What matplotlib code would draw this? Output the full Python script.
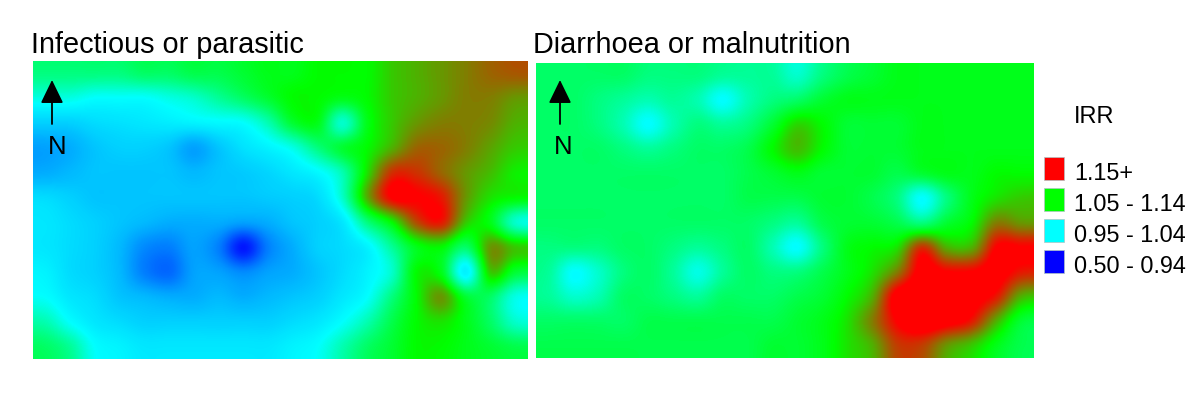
import numpy as np
import matplotlib
matplotlib.use("Agg")
import matplotlib.pyplot as plt
from matplotlib.colors import LinearSegmentedColormap, Normalize
from matplotlib.patches import Rectangle

plt.rcParams["font.family"] = ["Liberation Sans", "DejaVu Sans"]

titles = ["Infectious or parasitic", "Diarrhoea or malnutrition"]

irr_infectious = [
    [1.05, 1.05, 1.05, 1.05, 1.06, 1.06, 1.07, 1.07, 1.08, 1.09, 1.09, 1.10, 1.10, 1.10, 1.12, 1.13, 1.14, 1.15, 1.16, 1.165],
    [1.01, 1.01, 1.00, 1.00, 1.00, 1.01, 1.02, 1.04, 1.06, 1.08, 1.10, 1.10, 1.09, 1.10, 1.12, 1.13, 1.14, 1.15, 1.15, 1.14],
    [0.96, 0.96, 0.97, 0.975, 0.98, 0.985, 0.99, 0.995, 1.00, 1.03, 1.08, 1.09, 1.02, 1.09, 1.12, 1.14, 1.15, 1.15, 1.145, 1.13],
    [0.92, 0.93, 0.95, 0.96, 0.96, 0.95, 0.92, 0.95, 0.975, 0.99, 1.01, 1.05, 1.08, 1.10, 1.13, 1.16, 1.16, 1.15, 1.135, 1.12],
    [0.93, 0.94, 0.95, 0.95, 0.95, 0.95, 0.94, 0.95, 0.955, 0.965, 0.98, 0.995, 1.03, 1.11, 1.18, 1.18, 1.16, 1.14, 1.125, 1.105],
    [0.97, 0.96, 0.95, 0.95, 0.95, 0.95, 0.95, 0.95, 0.95, 0.955, 0.96, 0.97, 1.02, 1.13, 1.20, 1.20, 1.19, 1.14, 1.11, 1.10],
    [0.98, 0.97, 0.96, 0.95, 0.94, 0.93, 0.93, 0.93, 0.92, 0.93, 0.95, 0.96, 0.98, 1.05, 1.10, 1.17, 1.19, 1.12, 1.09, 1.02],
    [0.98, 0.97, 0.96, 0.94, 0.90, 0.89, 0.92, 0.89, 0.80, 0.89, 0.93, 0.96, 0.97, 0.99, 1.04, 1.09, 1.10, 1.06, 1.14, 1.12],
    [0.99, 0.97, 0.96, 0.94, 0.89, 0.87, 0.92, 0.92, 0.90, 0.92, 0.93, 0.95, 0.97, 0.99, 1.02, 1.10, 1.09, 0.99, 1.12, 1.08],
    [1.00, 0.98, 0.97, 0.95, 0.94, 0.93, 0.93, 0.94, 0.93, 0.94, 0.95, 0.96, 0.98, 1.00, 1.05, 1.10, 1.14, 1.08, 1.06, 1.01],
    [1.03, 1.00, 0.98, 0.97, 0.96, 0.96, 0.96, 0.96, 0.96, 0.96, 0.97, 0.98, 1.00, 1.03, 1.07, 1.10, 1.11, 1.09, 1.06, 1.02],
    [1.06, 1.04, 1.00, 0.99, 0.98, 0.98, 0.98, 0.98, 0.98, 0.98, 0.99, 1.00, 1.03, 1.06, 1.08, 1.10, 1.10, 1.09, 1.08, 1.07],
]

irr_diarrhoea = [
    [1.06, 1.06, 1.06, 1.06, 1.05, 1.05, 1.05, 1.04, 1.04, 1.04, 1.02, 1.05, 1.07, 1.08, 1.09, 1.09, 1.09, 1.09, 1.09, 1.09],
    [1.06, 1.06, 1.05, 1.04, 1.03, 1.04, 1.03, 1.00, 1.03, 1.05, 1.06, 1.08, 1.09, 1.09, 1.09, 1.09, 1.09, 1.09, 1.09, 1.09],
    [1.06, 1.06, 1.05, 1.03, 1.00, 1.03, 1.05, 1.04, 1.05, 1.08, 1.115, 1.10, 1.08, 1.08, 1.08, 1.09, 1.09, 1.09, 1.09, 1.09],
    [1.06, 1.06, 1.06, 1.05, 1.04, 1.05, 1.06, 1.06, 1.07, 1.10, 1.125, 1.10, 1.08, 1.08, 1.08, 1.09, 1.09, 1.09, 1.09, 1.09],
    [1.06, 1.06, 1.06, 1.06, 1.06, 1.06, 1.06, 1.06, 1.07, 1.08, 1.09, 1.08, 1.08, 1.08, 1.07, 1.08, 1.09, 1.09, 1.10, 1.10],
    [1.06, 1.06, 1.06, 1.06, 1.06, 1.06, 1.06, 1.06, 1.07, 1.07, 1.07, 1.08, 1.08, 1.07, 1.05, 1.00, 1.05, 1.09, 1.11, 1.12],
    [1.06, 1.06, 1.06, 1.06, 1.06, 1.06, 1.06, 1.06, 1.06, 1.05, 1.04, 1.07, 1.08, 1.08, 1.07, 1.05, 1.08, 1.10, 1.15, 1.14],
    [1.05, 1.05, 1.05, 1.06, 1.06, 1.05, 1.04, 1.05, 1.06, 1.03, 1.00, 1.05, 1.09, 1.10, 1.11, 1.18, 1.13, 1.13, 1.20, 1.20],
    [1.04, 1.00, 1.02, 1.05, 1.06, 1.04, 1.01, 1.04, 1.06, 1.05, 1.05, 1.07, 1.09, 1.11, 1.15, 1.21, 1.20, 1.20, 1.21, 1.19],
    [1.04, 1.02, 1.03, 1.06, 1.06, 1.05, 1.04, 1.06, 1.06, 1.06, 1.07, 1.08, 1.10, 1.13, 1.21, 1.22, 1.22, 1.21, 1.19, 1.13],
    [1.06, 1.06, 1.06, 1.06, 1.07, 1.07, 1.07, 1.07, 1.07, 1.07, 1.08, 1.09, 1.11, 1.15, 1.20, 1.22, 1.21, 1.19, 1.13, 1.08],
    [1.07, 1.07, 1.07, 1.07, 1.07, 1.07, 1.07, 1.07, 1.07, 1.08, 1.08, 1.09, 1.11, 1.13, 1.175, 1.175, 1.14, 1.12, 1.09, 1.07],
]

legend_title = "IRR"
legend_labels = ["1.15+", "1.05 - 1.14", "0.95 - 1.04", "0.50 - 0.94"]
legend_colors = ["#ff0000", "#00ff00", "#00ffff", "#0000ff"]

# --------------- Colour scale -----------------
vmin, vmax = 0.78, 1.20
scale_irr = [0.78, 1.00, 1.10, 1.20]
scale_colors = ["#0000ff", "#00ffff", "#00ff00", "#ff0000"]
stops = [(v - vmin) / (vmax - vmin) for v in scale_irr]
cmap = LinearSegmentedColormap.from_list("irr", list(zip(stops, scale_colors)))
norm = Normalize(vmin, vmax)

# --------------- Figure, one axes in pixel units -----------------
fig = plt.figure(figsize=(12, 4.04), dpi=100)
ax = fig.add_axes([0, 0, 1, 1])
ax.axis("off")

panels = [
    (irr_infectious, (33, 528, 359, 61), 31, 52, 57),
    (irr_diarrhoea, (536, 1034, 358, 63), 533, 560, 563),
]
for (grid, extent, title_x, arrow_x, n_x), title in zip(panels, titles):
    # catrom goes through the grid values, agg's bicubic flattens the small spots
    ax.imshow(np.array(grid), extent=extent, aspect="auto", cmap=cmap, norm=norm,
              interpolation="catrom", interpolation_stage="data", zorder=1)
    ax.text(title_x, 45, title, fontsize=20.8, va="center", ha="left", color="black")
    ax.annotate("", xy=(arrow_x, 80), xytext=(arrow_x, 124), zorder=3,
                arrowprops=dict(arrowstyle="-|>,head_width=0.7,head_length=1.44", color="black",
                                lw=1.3, shrinkA=0, shrinkB=0))
    ax.text(n_x, 147, "N", fontsize=18.5, va="center", ha="center", color="black", zorder=3)

# imshow resets the limits
ax.set_xlim(0, 1200)
ax.set_ylim(404, 0)

# --------------- Legend -----------------
ax.text(1074, 117, legend_title, fontsize=17, va="center", ha="left")
for i, (lab, col) in enumerate(zip(legend_labels, legend_colors)):
    y = 157 + i * 31
    ax.add_patch(Rectangle((1044, y), 20, 23, facecolor=col, edgecolor="#b0c4c4", lw=0.5))
    ax.text(1074, y + 16.5, lab, fontsize=16.8, va="center", ha="left")

fig.savefig("out.png", dpi=100)
